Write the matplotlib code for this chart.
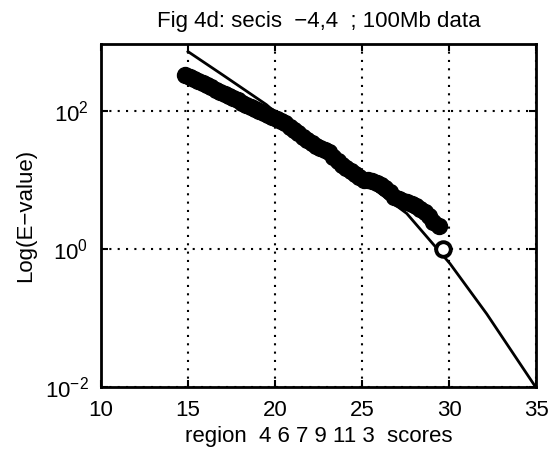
import matplotlib
matplotlib.use("Agg")
import matplotlib.pyplot as plt
from matplotlib.ticker import FixedLocator, NullLocator

plt.rcParams['font.family'] = ['Liberation Sans', 'DejaVu Sans']
plt.rcParams['mathtext.fontset'] = 'custom'
plt.rcParams['mathtext.rm'] = 'Liberation Sans'
plt.rcParams['mathtext.it'] = 'Liberation Sans:italic'

# Observed scores (filled circles) and their E-values
score_x = [14.85, 15.1, 15.35, 15.6, 15.85, 16.1, 16.35, 16.6, 16.85, 17.1,
           17.35, 17.6, 17.85, 18.1, 18.35, 18.6, 18.85, 19.1, 19.35, 19.6,
           19.85, 20.1, 20.35, 20.6, 20.85, 21.1, 21.35, 21.6, 21.85, 22.1,
           22.35, 22.6, 22.85, 23.1, 23.35, 23.6, 23.85, 24.1, 24.35, 24.6,
           24.85, 25.1, 25.35, 25.6, 25.85, 26.1, 26.35, 26.6, 26.85, 27.1,
           27.35, 27.6, 27.85, 28.1, 28.35, 28.6, 28.85, 29.1, 29.4]
score_e = [339, 316, 295, 275, 257, 240, 224, 204, 191, 178,
           166, 155, 145, 135, 126, 117, 110, 102, 95, 89,
           83, 79, 74, 68, 60, 54, 48, 43, 38, 35,
           32, 30, 28, 26, 22, 19, 17, 15, 13.5, 12.3,
           11.2, 10.2, 10.0, 9.8, 9.3, 8.5, 7.8, 6.8, 5.8, 5.4,
           5.1, 4.9, 4.6, 4.2, 3.9, 3.5, 3.0, 2.5, 2.2]

# Highlighted (open circle) point
open_x = [29.67]
open_e = [1.0]

# Theoretical E-value curve
curve_x = [15, 17, 19.5, 22, 24.5, 27.57, 30.06, 32.17, 35]
curve_e = [741, 339, 126, 36, 12.6, 3.31, 0.617, 0.115, 0.0098]

xticks = [10, 15, 20, 25, 30, 35]
yticks = [1e-2, 1e0, 1e2]

fig = plt.figure(figsize=(5.58, 4.49), dpi=100)
ax = fig.add_axes([101/558, 62/449, 435/558, 343/449])

ax.plot(score_x, score_e, 'o', color='black', ms=11.5, mew=1, zorder=3)
ax.plot(curve_x, curve_e, '-', color='black', lw=2, zorder=4)
ax.plot(open_x, open_e, 'o', mfc='white', mec='black', ms=10.5, mew=2.8, zorder=5)

ax.set_yscale('log')
ax.set_xlim(10, 35)
ax.set_ylim(1e-2, 10**2.98)
ax.xaxis.set_major_locator(FixedLocator(xticks))
ax.yaxis.set_major_locator(FixedLocator(yticks))
ax.yaxis.set_minor_locator(NullLocator())

ax.grid(True, which='major', color='black', linestyle=(0, (1, 3)), linewidth=1.5)
ax.tick_params(which='major', direction='in', length=5, width=1.5,
               top=True, right=True, labelsize=16, pad=9, colors='black')
for s in ax.spines.values():
    s.set_linewidth(2)

ax.set_title('Fig 4d: secis  \u22124,4  ; 100Mb data', fontsize=16, pad=12)
ax.set_xlabel('region  4 6 7 9 11 3  scores', fontsize=16, labelpad=4)
ax.set_ylabel('Log(E\u2212value)', fontsize=16, labelpad=6)

fig.savefig('out.png', dpi=100)
